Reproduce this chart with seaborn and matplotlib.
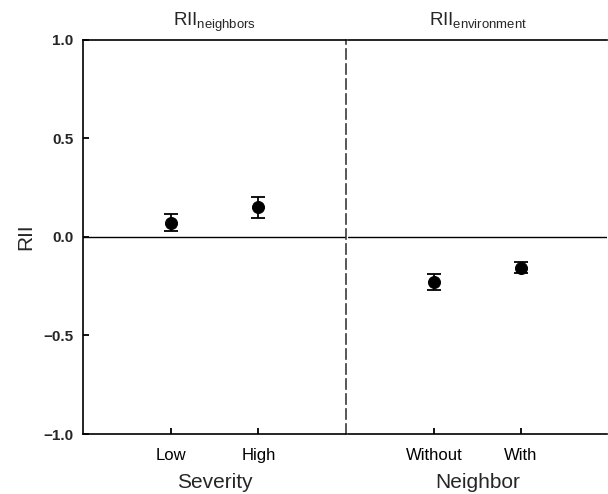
import matplotlib
matplotlib.use("Agg")
import matplotlib.pyplot as plt
import seaborn as sns
import pandas as pd

sns.set_style("ticks", {"xtick.direction": "in", "ytick.direction": "in"})
plt.rcParams['font.family'] = ['Liberation Sans', 'DejaVu Sans']
plt.rcParams['mathtext.fontset'] = 'custom'
plt.rcParams['mathtext.rm'] = 'Liberation Sans'

severity = ["Low", "High"]
sev_mean = [0.072, 0.150]
sev_err = [0.043, 0.055]

neighbor = ["Without", "With"]
nb_mean = [-0.228, -0.155]
nb_err = [0.041, 0.027]

yticks = [-1.0, -0.5, 0.0, 0.5, 1.0]
ytick_labels = ["\u22121.0", "\u22120.5", "0.0", "0.5", "1.0"]

W, H = 608, 494
fig = plt.figure(figsize=(W / 100, H / 100), dpi=100)
axL = fig.add_axes([83 / W, 1 - 434 / H, (346 - 83) / W, (434 - 40) / H])
axR = fig.add_axes([348 / W, 1 - 434 / H, (607 - 348) / W, (434 - 40) / H])

dfL = pd.DataFrame({"cat": severity, "mean": sev_mean, "err": sev_err})
dfR = pd.DataFrame({"cat": neighbor, "mean": nb_mean, "err": nb_err})

for ax, df in [(axL, dfL), (axR, dfR)]:
    ax.axhline(0, color="black", lw=1.0, zorder=1)
    ax.errorbar(df["cat"], df["mean"], yerr=df["err"], fmt="none",
                ecolor="black", elinewidth=1.3, capsize=5, capthick=1.3, zorder=2)
    sns.scatterplot(data=df, x="cat", y="mean", ax=ax, color="black",
                    s=75, edgecolor="black", zorder=3, legend=False)
    ax.set_xlim(-1, 2)
    ax.set_ylim(-1.0, 1.0)
    for sp in ax.spines.values():
        sp.set_color("black")
        sp.set_linewidth(1.2)
    ax.spines["right"].set_visible(False)
    # inward tick marks at the category positions
    ax.vlines(df["cat"], 0, 0.016, transform=ax.get_xaxis_transform(),
              color="black", lw=1.3, clip_on=False, zorder=4)

axL.set_yticks(yticks)
axL.set_yticklabels(ytick_labels, fontweight="bold", fontsize=11)
axL.hlines(yticks, 0, 0.022, transform=axL.get_yaxis_transform(),
           color="black", lw=1.3, clip_on=False, zorder=4)
axL.set_ylabel("RII", fontsize=15, labelpad=6)
axL.set_xlabel("Severity", fontsize=15, labelpad=7)
axL.spines["right"].set_visible(True)
axL.spines["right"].set_color("#3a3a3a")
axL.spines["right"].set_linestyle((0, (6, 3)))
axL.spines["right"].set_linewidth(1.2)

axR.tick_params(axis="y", left=False, right=False, labelleft=False)
axR.set_ylabel("")
axR.spines["left"].set_visible(False)
axR.set_xlabel("Neighbor", fontsize=15, labelpad=7)

for ax in (axL, axR):
    ax.tick_params(axis="x", which="major", direction="in", length=0,
                   labelsize=12, pad=10, labelcolor="black",
                   bottom=True, top=False)
axL.tick_params(axis="y", which="major", direction="in", length=0,
                left=True, right=False, pad=7)

axL.set_title(r"RII$_{\mathregular{neighbors}}$", fontsize=13.5, pad=10)
axR.set_title(r"RII$_{\mathregular{environment}}$", fontsize=13.5, pad=10)

fig.savefig("out.png", dpi=100, facecolor="white")
